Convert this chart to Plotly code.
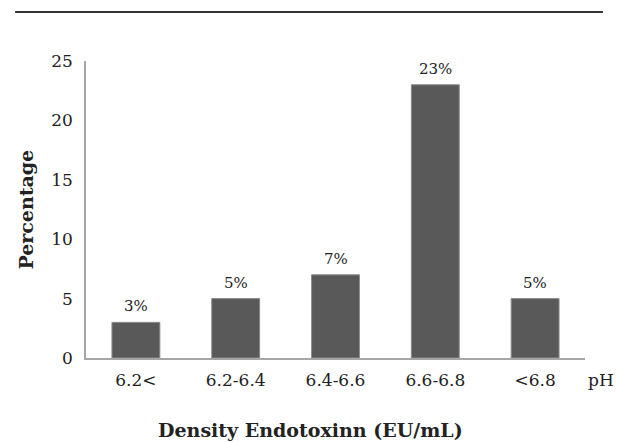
import plotly.graph_objects as go

# pH classes and share of samples (%)
categories = ["6.2<", "6.2-6.4", "6.4-6.6", "6.6-6.8", "<6.8"]
percentages = [3, 5, 7, 23, 5]
y_ticks = [0, 5, 10, 15, 20, 25]

SERIF = "DejaVu Serif, Liberation Serif, serif"
INK = "#222222"

fig = go.Figure(
    go.Bar(
        x=categories,
        y=percentages,
        marker=dict(color="#595959", line=dict(color="#8c8c8c", width=1)),
        width=0.48,
    )
)

# value labels sitting just above each bar
value_labels = [
    dict(
        x=c, y=v, xref="x", yref="y",
        text=f"{v}%", showarrow=False,
        yanchor="bottom", yshift=5,
        font=dict(family=SERIF, size=15, color=INK),
    )
    for c, v in zip(categories, percentages)
]

fig.update_layout(
    width=617,
    height=442,
    margin=dict(l=86, r=32, t=61, b=84),
    paper_bgcolor="white",
    plot_bgcolor="white",
    showlegend=False,
    font=dict(family=SERIF, size=17, color=INK),
    xaxis=dict(
        type="category",
        range=[-0.5, 4.5],
        showline=True,
        linecolor="#a6a6a6",
        linewidth=1.5,
        showgrid=False,
        ticks="",
        ticklabelstandoff=6,
        tickfont=dict(family=SERIF, size=17, color=INK),
    ),
    yaxis=dict(
        range=[0, 25],
        tickvals=y_ticks,
        showline=True,
        linecolor="#a6a6a6",
        linewidth=1.5,
        showgrid=False,
        zeroline=False,
        ticks="",
        ticklabelstandoff=8,
        tickfont=dict(family=SERIF, size=17, color=INK),
    ),
    shapes=[
        dict(
            type="line", xref="paper", yref="paper",
            x0=-0.142, x1=1.036, y0=1.165, y1=1.165,
            line=dict(color="#333333", width=2),
        )
    ],
    annotations=value_labels + [
        dict(
            text="pH", xref="paper", yref="paper",
            x=1.002, y=-0.074, xanchor="left", yanchor="middle",
            showarrow=False,
            font=dict(family=SERIF, size=17, color=INK),
        ),
        dict(
            text="<b>Density Endotoxinn (EU/mL)</b>", xref="paper", yref="paper",
            x=0.449, y=-0.242, xanchor="center", yanchor="middle",
            showarrow=False,
            font=dict(family=SERIF, size=19, color=INK),
        ),
        dict(
            text="<b>Percentage</b>", xref="paper", yref="paper",
            x=-0.122, y=0.5, xanchor="center", yanchor="middle",
            textangle=-90, showarrow=False,
            font=dict(family=SERIF, size=19, color=INK),
        ),
    ],
)

fig.write_html("out.html")
